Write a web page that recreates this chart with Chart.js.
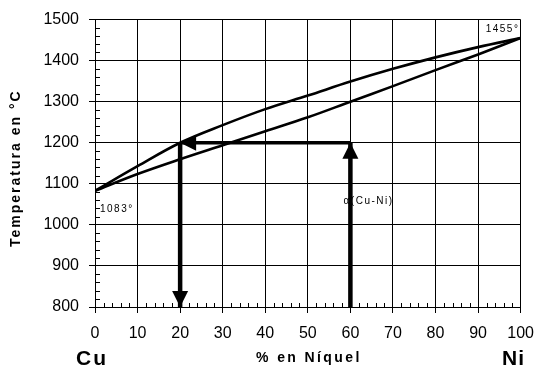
<!DOCTYPE html>
<html>
<head>
<meta charset="utf-8">
<script src="https://cdn.jsdelivr.net/npm/chart.js@4"></script>
<style>html,body{margin:0;padding:0;background:#fff}</style>
</head>
<body>
<canvas id="diagrama" width="545" height="373"></canvas>
<script>
// Diagrama de fases Cu-Ni
const composicion = [0, 10, 20, 30, 40, 50, 60, 70, 80, 90, 100];
const liquidus    = [1083, 1143, 1200, 1243, 1282, 1315, 1349, 1380, 1408, 1433, 1455];
const solidus     = [1083, 1124, 1160, 1194, 1228, 1262, 1300, 1338, 1377, 1415, 1455];

// Recorrido de las flechas: sube por 60 %, va a 20 % y baja
const flechaX = [60, 60, 20, 20];
const flechaY = [800, 1200, 1200, 800];

const ticksX = [0, 10, 20, 30, 40, 50, 60, 70, 80, 90, 100];
const ticksY = [800, 900, 1000, 1100, 1200, 1300, 1400, 1500];

const FUENTE = '"Liberation Sans", Arial, sans-serif';
const pares = (xs, ys) => xs.map((x, i) => ({ x, y: ys[i] }));

// Marcas menores, puntas de flecha y textos sueltos
const decoracion = {
    id: 'decoracion',
    afterDatasetsDraw(chart) {
        const { ctx, scales: { x, y } } = chart;
        ctx.save();
        ctx.fillStyle = '#000';
        for (let i = 1; i < flechaX.length; i++) {
            const x0 = x.getPixelForValue(flechaX[i - 1]), y0 = y.getPixelForValue(flechaY[i - 1]);
            const x1 = x.getPixelForValue(flechaX[i]),     y1 = y.getPixelForValue(flechaY[i]);
            const ang = Math.atan2(y1 - y0, x1 - x0);
            const largo = 16, medio = 8;
            ctx.beginPath();
            ctx.moveTo(x1, y1);
            ctx.lineTo(x1 - largo * Math.cos(ang) + medio * Math.sin(ang), y1 - largo * Math.sin(ang) - medio * Math.cos(ang));
            ctx.lineTo(x1 - largo * Math.cos(ang) - medio * Math.sin(ang), y1 - largo * Math.sin(ang) + medio * Math.cos(ang));
            ctx.closePath();
            ctx.fill();
        }
        ctx.restore();
    },
    afterDraw(chart) {
        const { ctx, chartArea: a, scales: { x, y } } = chart;
        ctx.save();
        ctx.strokeStyle = '#000';
        ctx.lineWidth = 1;
        ctx.beginPath();
        for (let v = 820; v < 1500; v += 20) {
            if (v % 100 === 0) continue;
            const py = Math.round(y.getPixelForValue(v)) + 0.5;
            ctx.moveTo(a.left, py); ctx.lineTo(a.left + 5, py);
        }
        for (let v = 2; v < 100; v += 2) {
            if (v % 10 === 0) continue;
            const px = Math.round(x.getPixelForValue(v)) + 0.5;
            ctx.moveTo(px, a.bottom); ctx.lineTo(px, a.bottom - 4);
        }
        ctx.stroke();

        ctx.fillStyle = '#000';
        ctx.textBaseline = 'alphabetic';
        ctx.textAlign = 'left';

        // etiquetas pequeñas
        ctx.font = '10px ' + FUENTE;
        ctx.letterSpacing = '1.5px';
        ctx.fillText('1083°', x.getPixelForValue(0) + 5, y.getPixelForValue(liquidus[0]) + 21);
        ctx.fillText('1455°', x.getPixelForValue(100) - 35, y.getPixelForValue(liquidus[10]) - 6);
        ctx.fillText('α(Cu-Ni)', x.getPixelForValue(58.4), y.getPixelForValue(1052));

        // títulos
        ctx.font = 'bold 14px ' + FUENTE;
        ctx.letterSpacing = '2.4px';
        ctx.fillText('% en Níquel', 256, 362);

        ctx.font = 'bold 21px ' + FUENTE;
        ctx.letterSpacing = '2px';
        ctx.fillText('Cu', 76, 365);
        ctx.letterSpacing = '1px';
        ctx.fillText('Ni', 502, 365);

        ctx.save();
        ctx.font = 'bold 14px ' + FUENTE;
        ctx.letterSpacing = '2px';
        ctx.translate(20, 247);
        ctx.rotate(-Math.PI / 2);
        ctx.fillText('Temperatura en °C', 0, 0);
        ctx.restore();

        ctx.restore();
    }
};

new Chart(document.getElementById('diagrama'), {
    type: 'line',
    data: {
        datasets: [
            {
                label: 'Líquidus',
                data: pares(composicion, liquidus),
                borderColor: '#000',
                borderWidth: 2.6,
                pointRadius: 0,
                tension: 0.35,
            },
            {
                label: 'Sólidus',
                data: pares(composicion, solidus),
                borderColor: '#000',
                borderWidth: 2.6,
                pointRadius: 0,
                tension: 0.35,
            },
            {
                label: 'Flechas',
                data: pares(flechaX, flechaY),
                borderColor: '#000',
                borderWidth: 4.5,
                borderCapStyle: 'butt',
                borderJoinStyle: 'miter',
                pointRadius: 0,
                tension: 0,
                clip: false,
                segment: {
                    borderWidth: c => c.p0.parsed.y === c.p1.parsed.y ? 3.5 : 4.5
                }
            }
        ]
    },
    options: {
        responsive: false,
        devicePixelRatio: 1,
        animation: false,
        layout: { padding: { top: 19, right: 22, left: 0, bottom: 0 } },
        plugins: {
            legend: { display: false },
            tooltip: { enabled: false }
        },
        scales: {
            x: {
                type: 'linear',
                min: 0, max: 100,
                afterBuildTicks: s => { s.ticks = ticksX.map(v => ({ value: v })); },
                afterFit: s => { s.height = 66; },
                grid: { color: '#000', lineWidth: 1, tickLength: 6 },
                border: { color: '#000', width: 1 },
                ticks: {
                    color: '#000',
                    padding: 11,
                    maxRotation: 0,
                    callback: v => String(v),
                    font: { family: FUENTE, size: 16 }
                }
            },
            y: {
                type: 'linear',
                min: 800, max: 1500,
                afterBuildTicks: s => { s.ticks = ticksY.map(v => ({ value: v })); },
                afterFit: s => { s.width = 95; },
                grid: { color: '#000', lineWidth: 1, tickLength: 6 },
                border: { color: '#000', width: 1 },
                ticks: {
                    color: '#000',
                    padding: 10,
                    callback: v => String(v),
                    font: { family: FUENTE, size: 16 }
                }
            }
        }
    },
    plugins: [decoracion]
});
</script>
</body>
</html>
